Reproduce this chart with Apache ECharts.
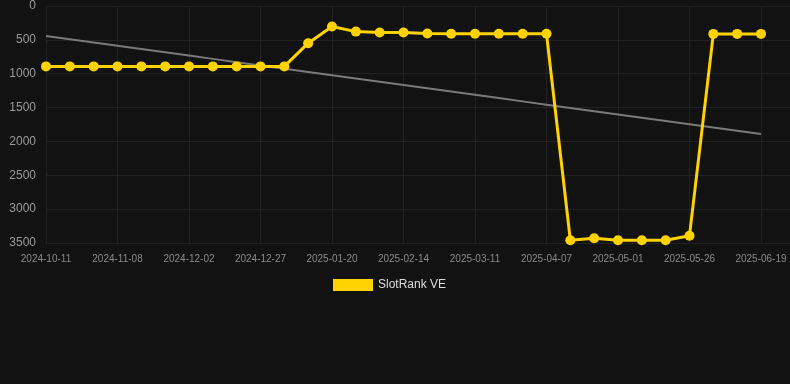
<!DOCTYPE html>
<html>
<head>
<meta charset="utf-8">
<script src="https://cdn.jsdelivr.net/npm/echarts@6/dist/echarts.min.js"></script>
<style>
html,body{margin:0;padding:0;background:#121212;}
#c{width:790px;height:384px;}
</style>
</head>
<body>
<div id="c"></div>
<script>
var dates = ['2024-10-11','2024-10-20','2024-10-30','2024-11-08','2024-11-16','2024-11-24','2024-12-02','2024-12-10','2024-12-19','2024-12-27','2025-01-04','2025-01-12','2025-01-20','2025-01-28','2025-02-06','2025-02-14','2025-02-22','2025-03-03','2025-03-11','2025-03-20','2025-03-29','2025-04-07','2025-04-15','2025-04-23','2025-05-01','2025-05-09','2025-05-17','2025-05-26','2025-06-03','2025-06-11','2025-06-19'];
var ranks = [892,892,892,892,892,892,892,892,892,892,892,549,304,378,392,392,405,410,410,410,410,410,3460,3431,3460,3460,3460,3392,412,412,412];
var seriesName = 'SlotRank VE';
var yTicks = [0,500,1000,1500,2000,2500,3000,3500];

// linear regression trend over the points
var n = ranks.length, sx=0, sy=0, sxy=0, sxx=0;
for (var i=0;i<n;i++){sx+=i;sy+=ranks[i];sxy+=i*ranks[i];sxx+=i*i;}
var slope=(n*sxy-sx*sy)/(n*sxx-sx*sx), icpt=(sy-slope*sx)/n;
var rankPts = ranks.map(function(v,i){return [i,v];});
var trendPts = ranks.map(function(_,i){return [i,icpt+slope*i];});

var gridCol = '#222222';
var chart = echarts.init(document.getElementById('c'), null, {renderer:'canvas'});
chart.setOption({
  backgroundColor:'#121212',
  animation:false,
  grid:{left:46,right:0,top:6,bottom:141,containLabel:false},
  legend:{
    top:279,left:333,padding:0,
    data:[{name:seriesName,icon:'rect'}],
    itemWidth:40,itemHeight:12,itemGap:10,
    textStyle:{color:'#dddddd',fontSize:12}
  },
  xAxis:{
    type:'value',min:0,max:(dates.length-1)+29/23.83,interval:3,
    axisLine:{show:true,lineStyle:{color:gridCol}},
    axisTick:{show:true,length:8,lineStyle:{color:gridCol}},
    axisLabel:{color:'#8a8a8a',fontSize:10,margin:11,showMaxLabel:false,
      formatter:function(v){return (Math.abs(v-Math.round(v))<1e-6 && dates[Math.round(v)]) ? dates[Math.round(v)] : '';}},
    splitLine:{show:true,lineStyle:{color:gridCol}}
  },
  yAxis:{
    type:'value',inverse:true,min:yTicks[0],max:yTicks[yTicks.length-1],interval:500,
    axisLine:{show:false},axisTick:{show:false},
    axisLabel:{color:'#9a9a9a',fontSize:12,margin:10,formatter:function(v){return String(v);}},
    splitLine:{show:true,lineStyle:{color:gridCol}}
  },
  series:[
    {
      name:seriesName,type:'line',data:rankPts,
      symbol:'circle',symbolSize:10,
      itemStyle:{color:'#FFD300'},
      lineStyle:{color:'#FFD300',width:3},
      z:3
    },
    {
      name:'trend',type:'line',data:trendPts,symbol:'none',
      lineStyle:{color:'#7a7a7a',width:2},
      z:2,silent:true
    }
  ]
});
</script>
</body>
</html>
